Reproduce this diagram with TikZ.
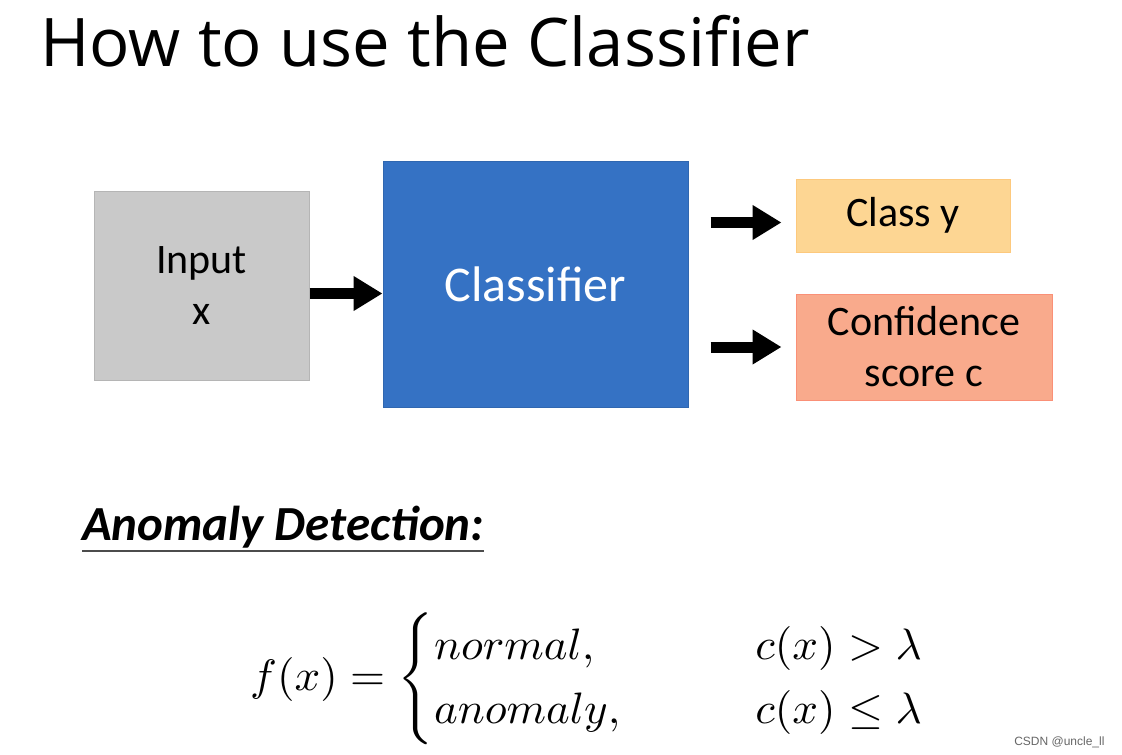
\documentclass[tikz,border=0pt]{standalone}
\usepackage{amsmath}
\usepackage{graphicx}
\usepackage{fontspec}
\setmainfont{Carlito}
\newfontfamily\titlefont{Open Sans}
\newfontfamily\markfont{Liberation Sans}
\usepackage{tikz}
\usetikzlibrary{arrows.meta}

\definecolor{inputgray}{HTML}{C9C9C9}
\definecolor{clsblue}{HTML}{3572C4}
\definecolor{classyellow}{HTML}{FDD693}
\definecolor{confred}{HTML}{F9AA8C}

\tikzset{
  box/.style={draw, line width=1pt, inner sep=0pt, align=center, font=\fontsize{42}{51}\selectfont},
  bigarrow/.style={line width=11pt, -{Triangle[length=29pt,width=33pt]}}
}

\begin{document}
\begin{tikzpicture}[x=1pt,y=-1pt]
		\useasboundingbox (0,0) rectangle (1122,755);
		\fill[white] (0,0) rectangle (1122,755);
		\node[anchor=base west,font=\titlefont\fontsize{67}{75}\selectfont,inner sep=0pt] (title) at (40,66) {How to use the Classifier};
		% boxes
		\node[box,fill=inputgray,draw=inputgray!90!black,minimum width=215pt,minimum height=189pt] (input) at (201.5,285.5) {Input\\x};
		\node[box,fill=clsblue,draw=clsblue!90!black,text=white,minimum width=305pt,minimum height=246pt,font=\fontsize{50}{56}\selectfont] (classifier) at (535.5,284) {Classifier};
		\node[box,fill=classyellow,draw=classyellow!85!orange,minimum width=214pt,minimum height=73pt] (classy) at (903,215.5) {Class y};
		\node[box,fill=confred,draw=confred!85!red,minimum width=256pt,minimum height=106pt] (conf) at (924,347) {Confidence\\score c};
		% arrows
		\coordinate (in out) at ([yshift=-8pt]input.east);
		\draw[bigarrow] (in out) -- (classifier.west |- in out);
		\draw[bigarrow] ([xshift=22pt,yshift=-7pt]classifier.east |- classy.west) -- ([xshift=-14pt,yshift=-7pt]classy.west);
		\draw[bigarrow] ([xshift=22pt]classifier.east |- conf.west) -- ([xshift=-14pt]conf.west);
		% anomaly detection
		\node[anchor=base west,font=\bfseries\itshape\fontsize{49}{56}\selectfont,inner sep=0pt] (anomaly) at (82,540) {Anomaly Detection:};
		\draw[line width=2pt,black!70] (anomaly.south west) ++(0,3) coordinate (ul) -- (ul -| anomaly.south east);
		\node[anchor=west,inner sep=0pt] (formula) at (250,679)
		{\scalebox{4.5}[4.4]{$f(x)=\begin{cases}normal, & \qquad c(x)>\lambda\\ anomaly, & \qquad c(x)\leq\lambda\end{cases}$}};
		\node[anchor=base east,font=\markfont\fontsize{12}{14}\selectfont,text=black!60] (mark) at (1108,745) {CSDN @uncle\_ll};
	\end{tikzpicture}
\end{document}
